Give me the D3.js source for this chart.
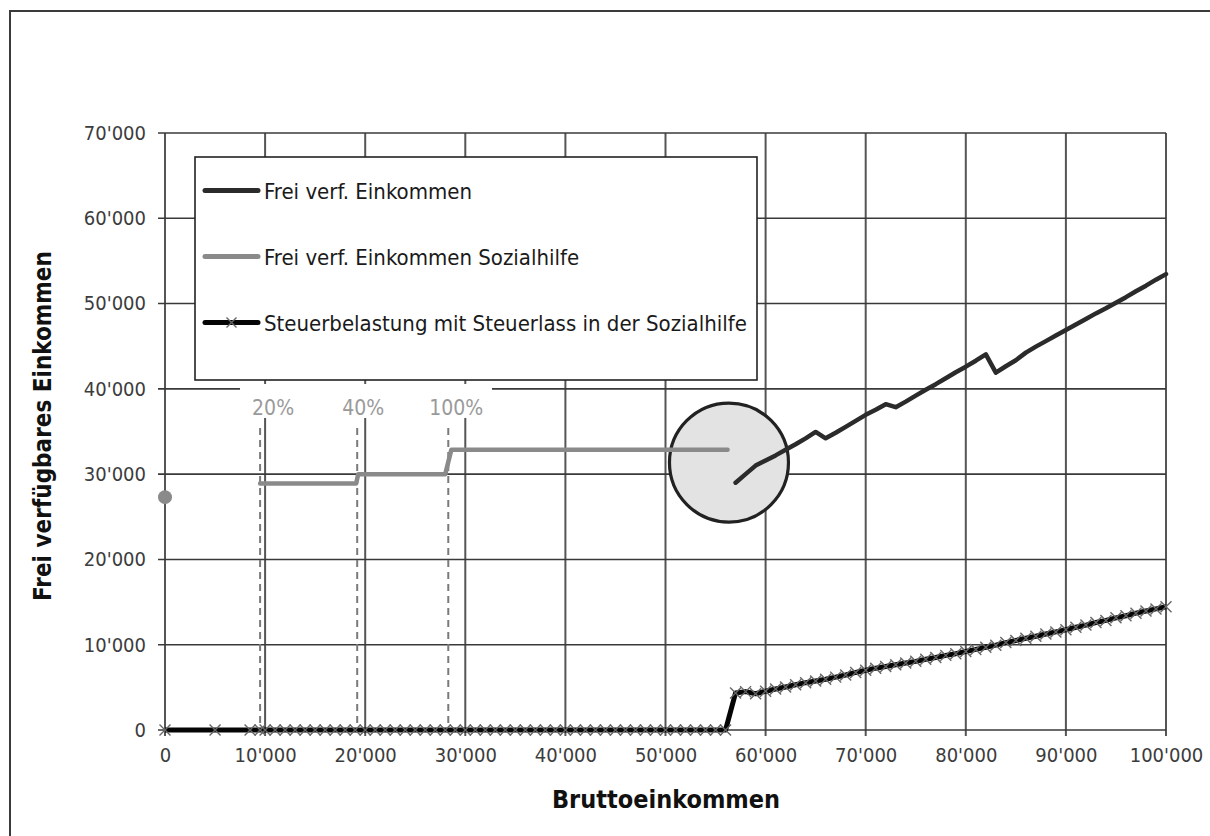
<!DOCTYPE html>
<html>
<head>
<meta charset="utf-8">
<script src="https://cdn.jsdelivr.net/npm/d3@7"></script>
<style>
  html, body { margin: 0; padding: 0; background: #fff; }
  svg { display: block; }
  text { font-family: "DejaVu Sans Condensed", "DejaVu Sans", sans-serif; font-stretch: condensed; }
</style>
</head>
<body>
<svg id="chart" width="1210" height="836"></svg>
<script>
// ---- data -------------------------------------------------------------
// Gross income on the x axis, disposable income (CHF) on the y axis.

// Disposable income without social assistance (from 57'000 upwards)
const freiIncome = [57000, 58000, 59000, 60000, 61000, 62000, 63000, 64000, 65000, 66000,
  67000, 68000, 69000, 70000, 71000, 72000, 73000, 74000, 75000, 76000,
  77000, 78000, 79000, 80000, 81000, 82000, 83000, 84000, 85000, 86000,
  87000, 88000, 89000, 90000, 91000, 92000, 93000, 94000, 95000, 96000,
  97000, 98000, 99000, 100000];
const freiValues = [29000, 30000, 31000, 31600, 32200, 32850, 33500, 34200, 34950, 34200,
  34850, 35550, 36250, 36950, 37550, 38200, 37850, 38500, 39200, 39900,
  40550, 41250, 41950, 42600, 43300, 44050, 41900, 42650, 43350, 44250,
  44950, 45600, 46250, 46900, 47550, 48200, 48850, 49450, 50100, 50750,
  51450, 52100, 52800, 53450];

// Disposable income while receiving social assistance (three allowance steps)
const sozIncome = [9500, 19100, 19300, 28000, 28600, 56200];
const sozValues = [28900, 28900, 30000, 30000, 32850, 32850];
// Social assistance with no gross income
const sozZeroIncome = 0;
const sozZeroValue = 27300;

// Tax burden with tax remission during social assistance
const taxIncome = [0, 5000, 8500, 9500,
  10000, 11000, 12000, 13000, 14000, 15000, 16000, 17000, 18000, 19000,
  20000, 21000, 22000, 23000, 24000, 25000, 26000, 27000, 28000, 29000,
  30000, 31000, 32000, 33000, 34000, 35000, 36000, 37000, 38000, 39000,
  40000, 41000, 42000, 43000, 44000, 45000, 46000, 47000, 48000, 49000,
  50000, 51000, 52000, 53000, 54000, 55000, 56000,
  57000, 58000, 59000, 60000, 61000, 62000, 63000, 64000, 65000, 66000,
  67000, 68000, 69000, 70000, 71000, 72000, 73000, 74000, 75000, 76000,
  77000, 78000, 79000, 80000, 81000, 82000, 83000, 84000, 85000, 86000,
  87000, 88000, 89000, 90000, 91000, 92000, 93000, 94000, 95000, 96000,
  97000, 98000, 99000, 100000];
const taxValues = [0, 0, 0, 0,
  0, 0, 0, 0, 0, 0, 0, 0, 0, 0,
  0, 0, 0, 0, 0, 0, 0, 0, 0, 0,
  0, 0, 0, 0, 0, 0, 0, 0, 0, 0,
  0, 0, 0, 0, 0, 0, 0, 0, 0, 0,
  0, 0, 0, 0, 0, 0, 0,
  4350, 4500, 4250, 4550, 4800, 5050, 5300, 5550, 5750, 5950,
  6200, 6450, 6750, 7000, 7250, 7450, 7650, 7850, 8050, 8300,
  8500, 8750, 8950, 9200, 9450, 9700, 9950, 10250, 10500, 10750,
  11000, 11250, 11500, 11750, 12050, 12300, 12600, 12850, 13150, 13400,
  13700, 13950, 14200, 14450];

// Social assistance thresholds (dashed markers) and their labels
const stepIncome = [9500, 19200, 28300];
const stepLabels = ["20%", "40%", "100%"];

// Highlighted transition out of social assistance
const focusIncome = 56340;
const focusValue = 31360;

const xTicks = [0, 10000, 20000, 30000, 40000, 50000, 60000, 70000, 80000, 90000, 100000];
const yTicks = [0, 10000, 20000, 30000, 40000, 50000, 60000, 70000];

const seriesNames = ["Frei verf. Einkommen", "Frei verf. Einkommen Sozialhilfe",
  "Steuerbelastung mit Steuerlass in der Sozialhilfe"];

// ---- layout -----------------------------------------------------------
const svg = d3.select("#chart");
const plot = { left: 165, right: 1166, top: 133, bottom: 730 };
const x = d3.scaleLinear().domain([0, 100000]).range([plot.left, plot.right]);
const y = d3.scaleLinear().domain([0, 70000]).range([plot.bottom, plot.top]);
const fmt = v => d3.format(",")(v).replace(/,/g, "'");

const colDark = "#2b2b2b", colGrey = "#8a8a8a", colBlack = "#050505";

// outer frame
svg.append("rect").attr("x", 10).attr("y", 11).attr("width", 1230).attr("height", 860)
  .attr("fill", "#fff").attr("stroke", "#3a3a3a").attr("stroke-width", 2);

// grid
svg.append("g").selectAll("line").data(xTicks).join("line")
  .attr("x1", d => x(d)).attr("x2", d => x(d))
  .attr("y1", plot.top).attr("y2", plot.bottom + 6)
  .attr("stroke", "#555").attr("stroke-width", 2);
svg.append("g").selectAll("line").data(yTicks).join("line")
  .attr("x1", plot.left - 7).attr("x2", plot.right)
  .attr("y1", d => y(d)).attr("y2", d => y(d))
  .attr("stroke", "#3a3a3a").attr("stroke-width", 1.6);

// axes via d3 axis generators (labels only; grid lines drawn above)
const xAxis = svg.append("g").attr("transform", `translate(0,${plot.bottom})`)
  .call(d3.axisBottom(x).tickValues(xTicks).tickFormat(fmt).tickSize(0).tickPadding(18));
const yAxis = svg.append("g").attr("transform", `translate(${plot.left},0)`)
  .call(d3.axisLeft(y).tickValues(yTicks).tickFormat(fmt).tickSize(0).tickPadding(19));
[xAxis, yAxis].forEach(a => {
  a.select(".domain").remove();
  a.selectAll("text").attr("font-size", 20).attr("fill", "#3c3c3c")
    .style("font-family", "'DejaVu Sans Condensed', 'DejaVu Sans', sans-serif");
});

// axis titles
svg.append("text").attr("x", 666).attr("y", 808).attr("text-anchor", "middle")
  .attr("font-size", 25).attr("font-weight", "bold").attr("fill", "#111")
  .text("Bruttoeinkommen");
svg.append("text").attr("transform", "translate(51,426) rotate(-90)")
  .attr("text-anchor", "middle").attr("font-size", 24).attr("font-weight", "bold").attr("fill", "#111")
  .text("Frei verfügbares Einkommen");

// threshold markers
svg.append("g").selectAll("line").data(stepIncome).join("line")
  .attr("x1", d => x(d)).attr("x2", d => x(d))
  .attr("y1", 428).attr("y2", plot.bottom)
  .attr("stroke", "#7a7a7a").attr("stroke-width", 2).attr("stroke-dasharray", "7,5");
svg.append("rect").attr("x", 240).attr("y", 384).attr("width", 252).attr("height", 34).attr("fill", "#fff");
const labelOffset = [13, 6, 8];
svg.append("g").selectAll("text").data(stepIncome).join("text")
  .attr("x", (d, i) => x(d) + labelOffset[i]).attr("y", 415)
  .attr("text-anchor", "middle").attr("font-size", 21).attr("fill", "#9a9a9a")
  .text((d, i) => stepLabels[i]);

// highlight circle
svg.append("circle").attr("cx", x(focusIncome)).attr("cy", y(focusValue)).attr("r", 59.5)
  .attr("fill", "#e3e3e3").attr("stroke", "#222").attr("stroke-width", 3.2);

// series
const line = d3.line().x(d => x(d[0])).y(d => y(d[1]));
svg.append("path").datum(sozIncome.map((v, i) => [v, sozValues[i]]))
  .attr("d", line).attr("fill", "none").attr("stroke", colGrey).attr("stroke-width", 4.5)
  .attr("stroke-linecap", "round").attr("stroke-linejoin", "round");
svg.append("circle").attr("cx", x(sozZeroIncome)).attr("cy", y(sozZeroValue)).attr("r", 7)
  .attr("fill", colGrey);
svg.append("path").datum(freiIncome.map((v, i) => [v, freiValues[i]]))
  .attr("d", line).attr("fill", "none").attr("stroke", colDark).attr("stroke-width", 4.5)
  .attr("stroke-linecap", "round").attr("stroke-linejoin", "round");

const taxPts = taxIncome.map((v, i) => [v, taxValues[i]]);
svg.append("path").datum(taxPts)
  .attr("d", line).attr("fill", "none").attr("stroke", colBlack).attr("stroke-width", 5)
  .attr("stroke-linejoin", "round");
const cross = (sel, s) => sel.attr("d", `M${-s},${-s}L${s},${s}M${-s},${s}L${s},${-s}`)
  .attr("fill", "none").attr("stroke", "#666").attr("stroke-width", 1.4);
svg.append("g").selectAll("path").data(taxPts).join("path")
  .attr("transform", d => `translate(${x(d[0])},${y(d[1])})`)
  .call(cross, 5.5);

// legend
const lg = svg.append("g");
lg.append("rect").attr("x", 195).attr("y", 157).attr("width", 562).attr("height", 223)
  .attr("fill", "#fff").attr("stroke", "#222").attr("stroke-width", 1.6);
const legendY = [190.5, 256.5, 322.5];
const legendCol = [colDark, colGrey, colBlack];
seriesNames.forEach((name, i) => {
  lg.append("line").attr("x1", 205).attr("x2", 258).attr("y1", legendY[i]).attr("y2", legendY[i])
    .attr("stroke", legendCol[i]).attr("stroke-width", 5).attr("stroke-linecap", "round");
  if (i === 2) lg.append("path").attr("transform", `translate(231.5,${legendY[i]})`).call(cross, 5);
  lg.append("text").attr("x", 264).attr("y", legendY[i] + 8).attr("font-size", 22)
    .attr("fill", "#1a1a1a").text(name);
});
</script>
</body>
</html>
